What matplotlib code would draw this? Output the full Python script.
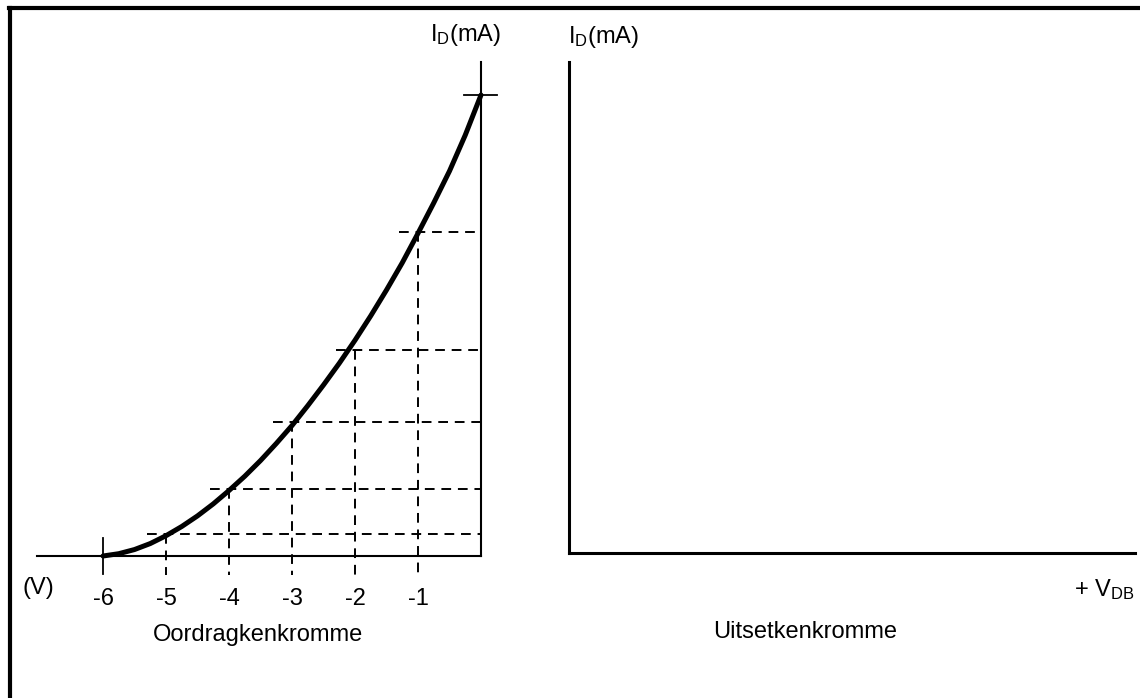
import matplotlib
matplotlib.use("Agg")
import matplotlib.pyplot as plt
from matplotlib.lines import Line2D

plt.rcParams['font.family'] = ['Liberation Sans', 'DejaVu Sans']

# gate voltage (V) and drain current (mA)
curve_v = [-6, -5.75, -5.5, -5.25, -5, -4.75, -4.5, -4.25, -4, -3.75, -3.5,
           -3.25, -3, -2.75, -2.5, -2.25, -2, -1.75, -1.5, -1.25, -1, -0.75,
           -0.5, -0.25, 0]
curve_i = [0, 0.05, 0.14, 0.27, 0.44, 0.64, 0.87, 1.13, 1.42, 1.73, 2.07,
           2.44, 2.83, 3.26, 3.71, 4.18, 4.68, 5.21, 5.77, 6.36, 7.0, 7.66,
           8.35, 9.13, 10]

# projection lines
grid_v = [-5, -4, -3, -2, -1]
grid_i = [0.47, 1.46, 2.90, 4.47, 7.03]
idss = 10
tick_v = [-6, -5, -4, -3, -2, -1]
tick_labels = ['-6', '-5', '-4', '-3', '-2', '-1']

W, H = 1140, 698
fig = plt.figure(figsize=(W / 100, H / 100), dpi=100)

# left panel: full figure axes, limits chosen so -6..0 V sits at 103..481 px
ax = fig.add_axes([0, 0, 1, 1])
px_v, px_i = 63.0, 46.1
ax.set_xlim(-6 - 103 / px_v, -6 + (W - 103) / px_v)
ax.set_ylim((556 - H) / px_i, 556 / px_i)
ax.axis('off')

dash = (0, (5, 3.5))
# axes of transfer curve
ax.plot([-7.05, 0], [0, 0], color='black', lw=1.5)
ax.plot([0, 0], [0, 10.72], color='black', lw=1.5)
ax.plot([-0.27, 0.25], [idss, idss], color='black', lw=1.3)
ax.plot([-6, -6], [0.4, -0.4], color='black', lw=1.3)

for v, i in zip(grid_v, grid_i):
    ax.plot([v - 0.3, 0], [i, i], color='black', lw=1.4, linestyle=dash)
    ax.plot([v, v], [i, -0.42], color='black', lw=1.4, linestyle=dash)

ax.plot(curve_v, curve_i, color='black', lw=3.6, solid_capstyle='round',
        solid_joinstyle='round')

for v, lab in zip(tick_v, tick_labels):
    ax.text(v, -0.93, lab, ha='center', va='center', fontsize=17)
ax.text(-7.03, -0.7, '(V)', ha='center', va='center', fontsize=17)
ax.text(-3.54, -1.72, 'Oordragkenkromme', ha='center', va='center', fontsize=17)
ax.text(-0.24, 11.3, r'$\mathregular{I_D}$(mA)', ha='center', va='center',
        fontsize=17)

# right panel: output characteristic (empty)
ax2 = fig.add_axes([569 / W, 1 - 553 / H, (1135 - 569) / W, (553 - 62) / H])
ax2.set_facecolor('none')
for s in ['top', 'right']:
    ax2.spines[s].set_visible(False)
for s in ['left', 'bottom']:
    ax2.spines[s].set_linewidth(2.2)
ax2.set_xticks([])
ax2.set_yticks([])

fig.text(604 / W, 1 - 37 / H, r'$\mathregular{I_D}$(mA)', ha='center',
         va='center', fontsize=17)
fig.text(1134 / W, 1 - 590 / H, r'+ $\mathregular{V_{DB}}$', ha='right',
         va='center', fontsize=17)
fig.text(805 / W, 1 - 632 / H, 'Uitsetkenkromme', ha='center', va='center',
         fontsize=17)

# frame around the drawing
fig.add_artist(Line2D([10 / W, 10 / W], [0, 1 - 8 / H], color='black', lw=3))
fig.add_artist(Line2D([8.5 / W, 1], [1 - 8 / H, 1 - 8 / H], color='black', lw=3))

fig.savefig('out.png', dpi=100, facecolor='white')
